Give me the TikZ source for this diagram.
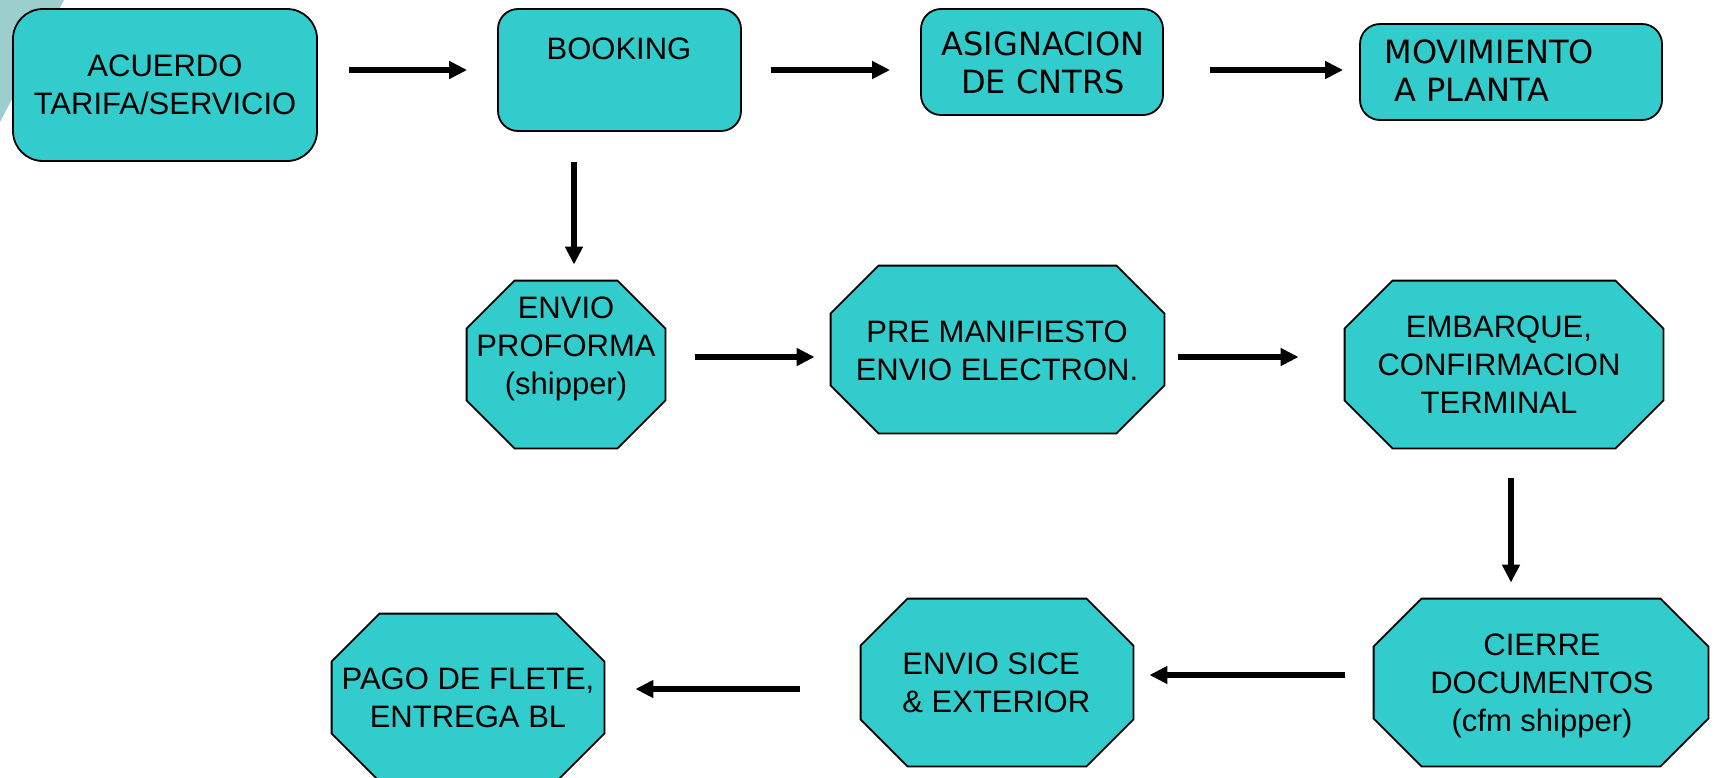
\documentclass[tikz,border=0pt]{standalone}
\usepackage{fontspec}
\setmainfont{Liberation Sans}
\newfontfamily\tahomafont{DejaVu Sans}
\usepackage{tikz}
\usetikzlibrary{arrows.meta,positioning,calc}
\usepackage{xcolor}
\definecolor{boxteal}{RGB}{51,204,204}
\definecolor{decoteal}{RGB}{156,206,206}

% octagon drawn on the corners of an (invisible) node
\newcommand{\octagonpath}[2]{%
  \filldraw[octline] ([xshift=#2]#1.north west) -- ([xshift=-#2]#1.north east)
    -- ([yshift=-#2]#1.north east) -- ([yshift=#2]#1.south east)
    -- ([xshift=-#2]#1.south east) -- ([xshift=#2]#1.south west)
    -- ([yshift=#2]#1.south west) -- ([yshift=-#2]#1.north west) -- cycle;}

\begin{document}
\begin{tikzpicture}[x=0.5pt, y=-0.5pt,
    rbox/.style={draw=black, line width=0.9pt, fill=boxteal, rounded corners=10pt, inner sep=0pt},
    octbox/.style={draw=none, inner sep=0pt, minimum height=83.5pt},
    octline/.style={draw=black, line width=0.9pt, fill=boxteal},
    lbl/.style={font=\fontsize{15.5}{19}\selectfont, align=center, inner sep=0pt},
    tlbl/.style={font=\tahomafont\fontsize{16}{19}\selectfont, inner sep=0pt},
    arr/.style={-{Triangle[length=9pt,width=8.5pt]}, line width=2.6pt}]
        \clip (0,0) rectangle (1714,777);

        % corner decoration
        \fill[decoteal] (0,0) -- (64,0) -- (0,122) -- cycle;

        % top row
        \node[rbox, lbl, rounded corners=15pt, minimum width=152pt, minimum height=76pt] (acuerdo) at (165,85) {ACUERDO\\TARIFA/SERVICIO};
        \node[rbox, minimum width=121.5pt, minimum height=61pt] (booking) at (619.5,70) {};
        \node[lbl] (bookingtext) at (619,49) {BOOKING};
        \node[rbox, minimum width=121pt, minimum height=53pt] (asignacion) at (1042,62) {};
        \node[tlbl, align=center] (asignaciontext) at (1043,62.5) {ASIGNACION\\DE CNTRS};
        \node[rbox, minimum width=151pt, minimum height=48pt] (movimiento) at (1511,72) {};
        \node[tlbl, align=left, anchor=west] (movimientotext) at (1384,71) {MOVIMIENTO\\\hspace*{5pt}A PLANTA};

        % middle row
        \node[octbox, minimum width=99pt] (proforma) at (566,364.5) {};
        \octagonpath{proforma}{24pt}
        \node[lbl] (proformatext) at (566,349) {ENVIO\\PROFORMA\\(shipper)};
        \node[octbox, minimum width=166.5pt] (premanifiesto) at (997.5,349.5) {};
        \octagonpath{premanifiesto}{24pt}
        \node[lbl] (premanifiestotext) at (997,351) {PRE MANIFIESTO\\ENVIO ELECTRON.};
        \node[octbox, minimum width=159pt] (embarque) at (1504,364.5) {};
        \octagonpath{embarque}{24pt}
        \node[lbl] (embarquetext) at (1499,365) {EMBARQUE,\\CONFIRMACION\\TERMINAL};

        % bottom row
        \node[octbox, minimum width=167pt] (cierre) at (1541,682.5) {};
        \octagonpath{cierre}{24pt}
        \node[lbl] (cierretext) at (1542,686) {CIERRE\\DOCUMENTOS\\(cfm shipper)};
        \node[octbox, minimum width=136pt] (sice) at (997,682.5) {};
        \octagonpath{sice}{23.5pt}
        \node[lbl, align=left, anchor=west] (sicetext) at (902,683) {ENVIO SICE\\\& EXTERIOR};
        \node[octbox, minimum width=136pt] (pago) at (468,697.5) {};
        \octagonpath{pago}{24pt}
        \node[lbl] (pagotext) at (468,698) {PAGO DE FLETE,\\ENTREGA BL};

        % connectors
        \draw[arr, shorten <=15.5pt, shorten >=15pt] (acuerdo.east |- booking.west) -- (booking.west);
        \draw[arr, shorten <=14.5pt, shorten >=15pt] (booking.east) -- (booking.east -| asignacion.west);
        \draw[arr, shorten <=23pt, shorten >=8pt] (asignacion.east |- booking.east) -- (movimiento.west |- booking.east);
        \draw[arr, shorten <=15pt, shorten >=8pt] ([xshift=-22.75pt]booking.south) -- ([xshift=-22.75pt]booking.south |- proforma.north);
        \draw[arr, shorten <=15pt, shorten >=8pt] ([yshift=3.75pt]proforma.east) -- ([yshift=3.75pt]proforma.east -| premanifiesto.west);
        \draw[arr, shorten <=7pt, shorten >=23pt] ([yshift=3.75pt]proforma.east -| premanifiesto.east) -- ([yshift=3.75pt]proforma.east -| embarque.west);
        \draw[arr, shorten <=15pt, shorten >=8pt] ([xshift=3.5pt]embarque.south) -- ([xshift=3.5pt]embarque.south |- cierre.north);
        \draw[arr, shorten <=14.5pt, shorten >=8pt] ([yshift=3.75pt]cierre.west) -- ([yshift=3.75pt]cierre.west -| sice.east);
        \draw[arr, shorten <=30.5pt, shorten >=15.5pt] ([yshift=-3.25pt]sice.west) -- ([yshift=-3.25pt]sice.west -| pago.east);
      \end{tikzpicture}
\end{document}
